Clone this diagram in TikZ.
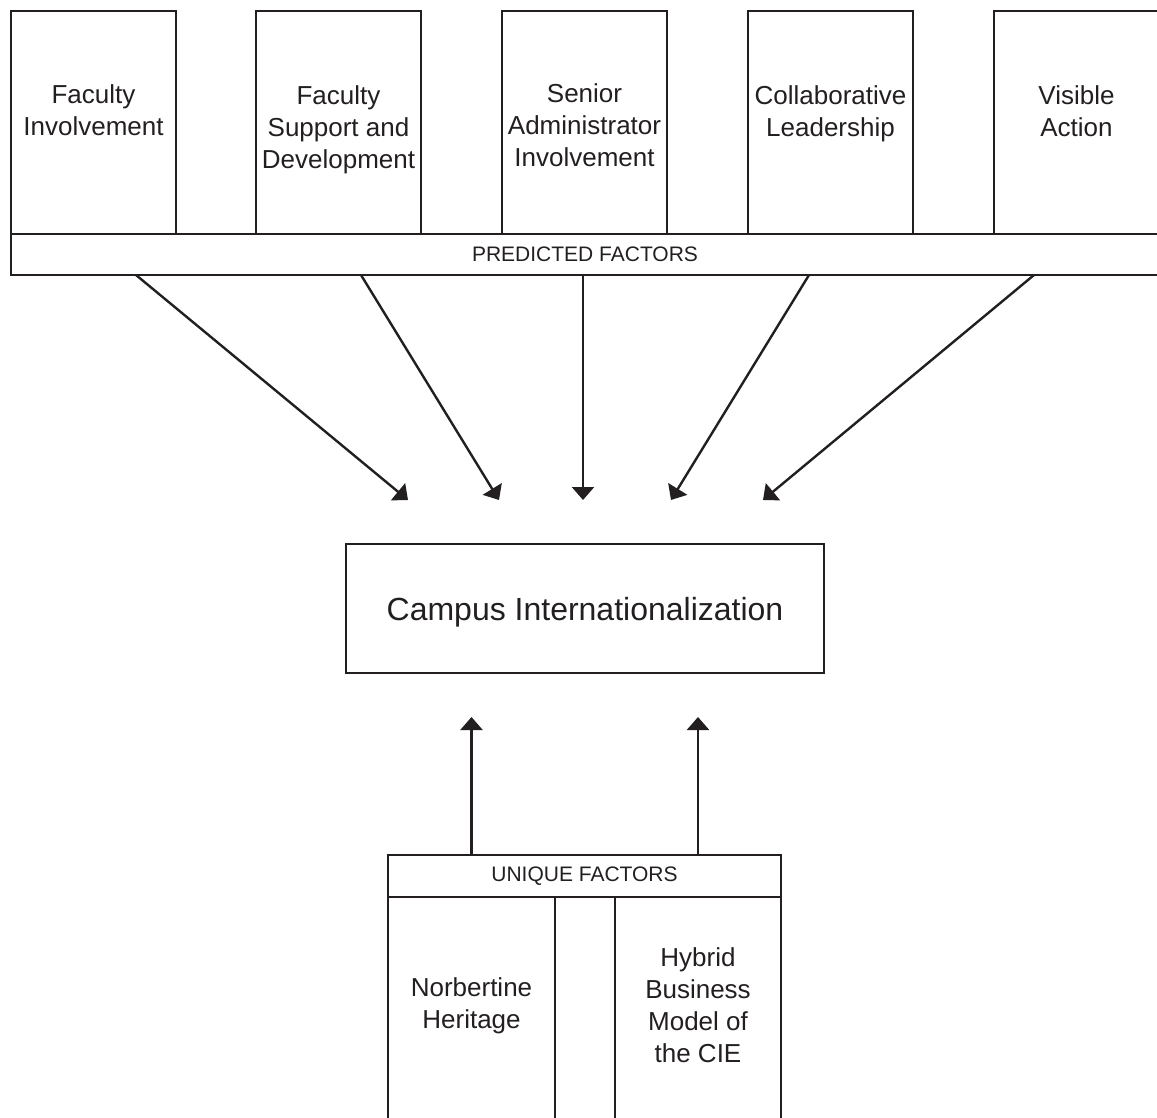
\documentclass[tikz,border=0pt]{standalone}
\usepackage{fontspec}
\setmainfont{Liberation Sans}
\usetikzlibrary{arrows.meta}
\definecolor{ink}{HTML}{231F20}
\begin{document}
\begin{tikzpicture}[x=1pt,y=-1pt,
  frame/.style={draw=ink, line width=2.4pt, anchor=north west, inner sep=0pt, outer sep=0pt},
  topbox/.style={frame, minimum width=165pt, minimum height=223pt},
  lbl/.style={text=ink, align=center, font=\fontsize{26}{32}\selectfont, inner sep=0pt},
  captext/.style={text=ink, font=\fontsize{21}{25}\selectfont},
  arr/.style={draw=ink, line width=2.4pt, -{Triangle[length=13pt,width=22pt]}}]
\useasboundingbox (0,0) rectangle (1157,1118);
\clip (0,0) rectangle (1157,1118);
% predicted factor boxes
\node[topbox] (f1) at (11,11) {};
\node[topbox] (f2) at (256,11) {};
\node[topbox] (f3) at (502,11) {};
\node[topbox] (f4) at (748,11) {};
\node[topbox] (f5) at (994,11) {};
\node[lbl] (l1) at (f1.center |- 0,110.5) {Faculty\\Involvement};
\node[lbl] (l2) at (f2.center |- 0,130) {Faculty\\Support and\\Development};
\node[lbl] (l3) at (f3.center |- 0,125.5) {Senior\\Administrator\\Involvement};
\node[lbl] (l4) at (f4.center |- 0,114) {Collaborative\\Leadership};
\node[lbl] (l5) at (f5.center |- 0,111.5) {Visible\\Action};
\node[frame, captext, minimum width=1148pt, minimum height=41pt] (bar) at (11,234) {PREDICTED FACTORS};
% central box
\node[draw=ink, line width=2.4pt, minimum width=478pt, minimum height=129pt, inner sep=0pt,
      text depth=0pt, text=ink, font=\fontsize{32}{38}\selectfont] (campus) at (585,608.5) {Campus Internationalization};
% arrows from predicted factors
\coordinate (s1) at (136,275);
\coordinate (s2) at (361,275);
\coordinate (s3) at (583,275);
\coordinate (s4) at (809,275);
\coordinate (s5) at (1034,275);
\coordinate (t1) at (408,500);
\coordinate (t2) at (499,500);
\coordinate (t3) at (583,500);
\coordinate (t4) at (671,500);
\coordinate (t5) at (763,500);
\foreach \i in {1,...,5} { \draw[arr] (s\i) -- (t\i); }
% unique factors
\node[frame, captext, minimum width=393pt, minimum height=42pt] (ubar) at (388,855) {UNIQUE FACTORS};
\node[frame, minimum width=167pt, minimum height=260pt] (nor) at (388,897) {};
\node[frame, minimum width=166pt, minimum height=260pt] (hyb) at (615,897) {};
\node[lbl] (ln) at (nor.center |- 0,1005.8) {Norbertine\\Heritage};
\node[lbl] (lh) at (hyb.center |- 0,1005.5) {Hybrid\\Business\\Model of\\the CIE};
\coordinate (u1) at (nor.center |- 0,717);
\coordinate (u2) at (hyb.center |- 0,717);
\draw[arr] (ubar.north -| nor.center) -- (u1);
\draw[arr] (ubar.north -| hyb.center) -- (u2);
\end{tikzpicture}
\end{document}
